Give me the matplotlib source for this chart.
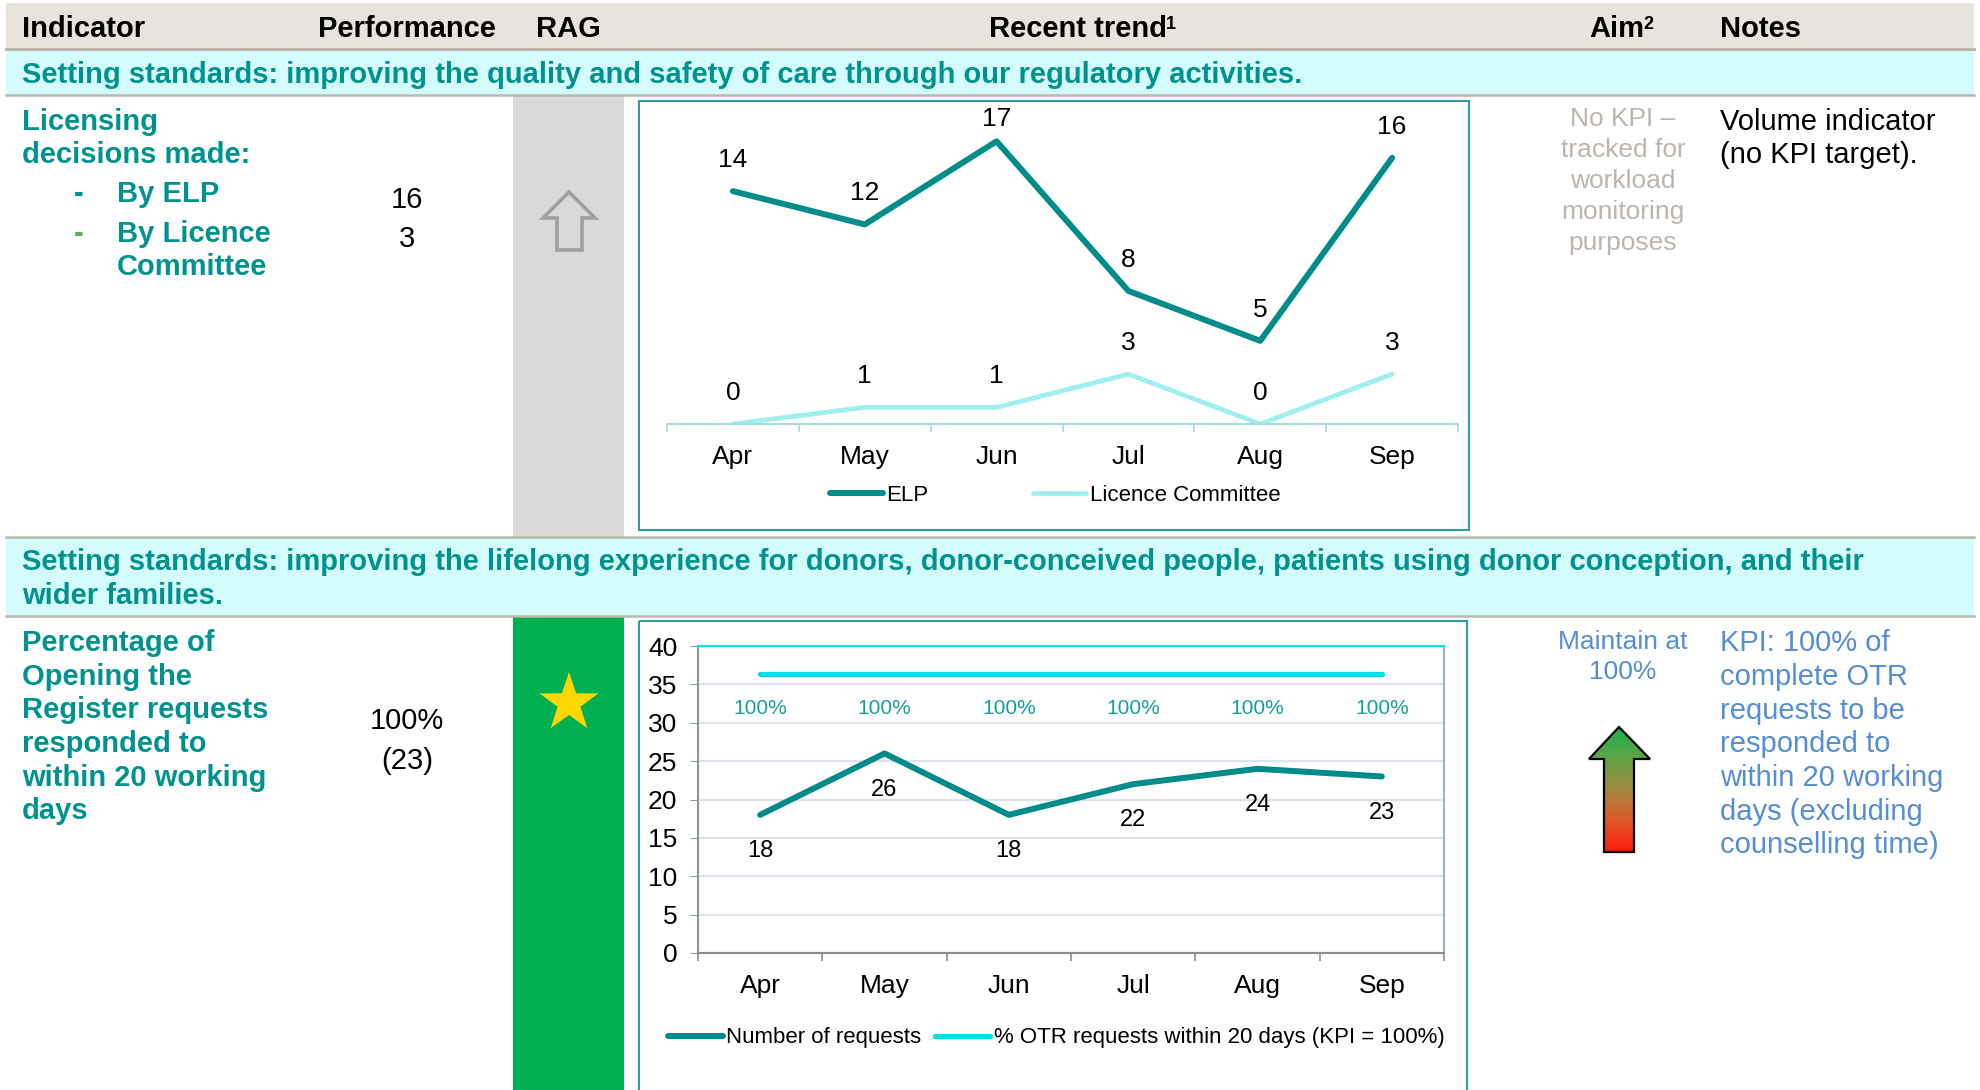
import numpy as np
import matplotlib.pyplot as plt
from matplotlib.patches import Rectangle, Polygon
from matplotlib.colors import LinearSegmentedColormap

plt.rcParams['font.family'] = ['Liberation Sans', 'DejaVu Sans']

W, H = 1980, 1090
DY = 3  # text baseline nudge in pixels

# data
months = ['Apr', 'May', 'Jun', 'Jul', 'Aug', 'Sep']
elp = [14, 12, 17, 8, 5, 16]
licence_committee = [0, 1, 1, 3, 0, 3]
otr_requests = [18, 26, 18, 22, 24, 23]
otr_pct = [100, 100, 100, 100, 100, 100]

teal = '#00928F'
blue = '#558ED5'
line_gray = '#BDB7AE'

fig = plt.figure(figsize=(W / 100, H / 100), dpi=100)

# background layer in pixel coordinates
bg = fig.add_axes([0, 0, 1, 1])
bg.set_xlim(0, W)
bg.set_ylim(H, 0)
bg.axis('off')


def px_axes(x0, y0, x1, y1):
    return fig.add_axes([x0 / W, 1 - y1 / H, (x1 - x0) / W, (y1 - y0) / H])


def lines(x, ys, texts, **kw):
    for y, s in zip(ys, texts):
        bg.text(x, y + DY, s, va='center', **kw)


# bands
bg.add_patch(Rectangle((6, 3), 1968, 46, fc='#E8E3DC', ec='none'))
bg.add_patch(Rectangle((6, 50), 1968, 45, fc='#D5FCFC', ec='none'))
bg.add_patch(Rectangle((6, 537), 1968, 79, fc='#D5FCFC', ec='none'))
bg.plot([6, 1974], [49, 49], color=line_gray, lw=2.2)
for yy in [95, 537, 616]:
    bg.plot([6, 1974], [yy, yy], color=line_gray, lw=1.8)

# RAG column
bg.add_patch(Rectangle((513, 96), 111, 441, fc='#D9D9D9', ec='none'))
bg.add_patch(Rectangle((513, 617), 111, 480, fc='#00B050', ec='none'))

# chart frames
bg.add_patch(Rectangle((639, 101), 830, 429, fill=False, ec='#2E9E9A', lw=1.5))
bg.add_patch(Rectangle((639, 621), 828, 520, fill=False, ec='#2E9E9A', lw=1.5))

# header
hkw = dict(fontsize=21, fontweight='bold', color='black', va='center')
bg.text(22, 26 + DY, 'Indicator', ha='left', **hkw)
bg.text(407, 26 + DY, 'Performance', ha='center', **hkw)
bg.text(568, 26 + DY, 'RAG', ha='center', **hkw)
t_trend = bg.text(1078, 26 + DY, 'Recent trend', ha='center', **hkw)
t_aim = bg.text(1617, 26 + DY, 'Aim', ha='center', **hkw)
bg.text(1720, 26 + DY, 'Notes', ha='left', **hkw)
for t, s in [(t_trend, '1'), (t_aim, '2')]:
    bg.annotate(s, xy=(1, 1), xycoords=t, xytext=(-0.5, -1), textcoords='offset points',
                ha='left', va='top', fontsize=13, fontweight='bold')

# section titles
skw = dict(fontsize=21, fontweight='bold', color=teal, ha='left')
lines(22, [72], ['Setting standards: improving the quality and safety of care through our regulatory activities.'], **skw)
lines(22, [559, 593], ['Setting standards: improving the lifelong experience for donors, donor-conceived people, patients using donor conception, and their',
                       'wider families.'], **skw)

# row 1
ikw = dict(fontsize=21, fontweight='bold', color=teal, ha='left')
lines(22, [119, 152], ['Licensing', 'decisions made:'], **ikw)
lines(117, [191, 231, 264], ['By ELP', 'By Licence', 'Committee'], **ikw)
lines(74, [191], ['-'], **ikw)
lines(74, [231], ['-'], fontsize=21, fontweight='bold', color='#5BAF5B', ha='left')
lines(407, [197, 236], ['16', '3'], fontsize=21, color='black', ha='center')
lines(1623, [116, 147, 178, 209, 240],
      ['No KPI –', 'tracked for', 'workload', 'monitoring', 'purposes'],
      fontsize=19, color='#BCB5AD', ha='center')
lines(1720, [119, 152], ['Volume indicator', '(no KPI target).'], fontsize=21, color='black', ha='left')

# row 2
lines(22, [640, 674, 707, 741, 775, 808],
      ['Percentage of', 'Opening the', 'Register requests', 'responded to', 'within 20 working', 'days'], **ikw)
lines(407, [718, 758], ['100%', '(23)'], fontsize=21, color='black', ha='center')
lines(1623, [639, 669], ['Maintain at', '100%'], fontsize=19, color=blue, ha='center')
lines(1720, [640, 674, 708, 741, 775, 809, 842],
      ['KPI: 100% of', 'complete OTR', 'requests to be', 'responded to', 'within 20 working',
       'days (excluding', 'counselling time)'], fontsize=21, color=blue, ha='left')

# RAG icons
up = [(569, 192), (595, 218), (582, 218), (582, 250), (557, 250), (557, 218), (543, 218)]
bg.add_patch(Polygon(up, closed=True, fc='#D9D9D9', ec='#A0A0A0', lw=2.6))

ang = np.pi / 2 + np.arange(10) * np.pi / 5
rad = np.where(np.arange(10) % 2 == 0, 31, 12)
star = np.column_stack([569 + rad * np.cos(ang), 703 - rad * np.sin(ang)])
bg.add_patch(Polygon(star, closed=True, fc='#FFD700', ec='none'))

# gradient aim arrow
aim_arrow = [(1619, 727), (1650, 759), (1634, 759), (1634, 852), (1604, 852), (1604, 759), (1589, 759)]
cmap = LinearSegmentedColormap.from_list('rg', ['#1DB04B', '#5FA548', '#A38840', '#E0582A', '#FF1A05'])
clip = Polygon(aim_arrow, closed=True, transform=bg.transData, fc='none', ec='none')
bg.add_patch(clip)
im = bg.imshow(np.linspace(0, 1, 256).reshape(-1, 1), cmap=cmap, aspect='auto',
               extent=(1589, 1650, 852, 727), origin='upper', zorder=2)
im.set_clip_path(clip)
bg.add_patch(Polygon(aim_arrow, closed=True, fill=False, ec='black', lw=1.6, zorder=3))
bg.set_xlim(0, W)
bg.set_ylim(H, 0)

x = np.arange(len(months))

# chart 1: licensing decisions
ax1 = px_axes(667, 108, 1458, 424)
ax1.patch.set_alpha(0)
y1_top = 19
l_elp, = ax1.plot(x, elp, color='#008C8A', lw=4.3, solid_capstyle='round', label='ELP')
l_lc, = ax1.plot(x, licence_committee, color='#9FEFF0', lw=3.4, solid_capstyle='round', label='Licence Committee')
pt_per_unit = 316 / y1_top * 0.72
for series in (elp, licence_committee):
    for i in x:
        # keep label inside plot area, like the spreadsheet does
        off = min(22.5, (y1_top - series[i]) * pt_per_unit - 8)
        ax1.annotate(str(series[i]), (i, series[i]), xytext=(0, off), textcoords='offset points',
                     ha='center', va='center', fontsize=19)
ax1.set_xlim(-0.5, 5.5)
ax1.set_ylim(0, y1_top)
ax1.set_yticks([])
ax1.set_xticks(x)
ax1.set_xticklabels(months, fontsize=19)
ax1.set_xticks(np.arange(-0.5, 6, 1), minor=True)
ax1.tick_params(axis='x', which='major', length=0, pad=15)
ax1.tick_params(axis='x', which='minor', length=6, width=1.2, color='#A8DCDC')
for s in ['top', 'left', 'right']:
    ax1.spines[s].set_visible(False)
ax1.spines['bottom'].set_color('#A8DCDC')
ax1.spines['bottom'].set_linewidth(1.5)
fig.legend(handles=[l_elp, l_lc], loc='center', bbox_to_anchor=(1055 / W, 1 - 495 / H),
           ncol=2, frameon=False, fontsize=16, handlelength=2.4, handletextpad=0.15,
           columnspacing=4.7)

# chart 2: opening the register requests
ax2 = px_axes(698, 646, 1444, 953)
ax2.patch.set_alpha(0)
l_req, = ax2.plot(x, otr_requests, color='#008B8B', lw=4.3, solid_capstyle='round',
                  label='Number of requests', zorder=3)
for i in x:
    ax2.annotate(str(otr_requests[i]), (i, otr_requests[i]), xytext=(0, -26),
                 textcoords='offset points', ha='center', va='center', fontsize=17)
ax2.set_xlim(-0.5, 5.5)
ax2.set_ylim(0, 40)
ax2.set_yticks(range(0, 41, 5))
ax2.tick_params(axis='y', labelsize=19, length=6, color='#8C9898', pad=9)
ax2.set_xticks(x)
ax2.set_xticklabels(months, fontsize=19)
ax2.set_xticks(np.arange(-0.5, 6, 1), minor=True)
ax2.tick_params(axis='x', which='major', length=0, pad=15)
ax2.tick_params(axis='x', which='minor', length=6, width=1.2, color='#8C8C8C')
ax2.grid(axis='y', color='#DCE3EE', lw=1.6)
ax2.set_axisbelow(True)
ax2.spines['top'].set_color('#00E5EE')
ax2.spines['right'].set_color('#A0B4B4')
ax2.spines['left'].set_color('#8C9898')
ax2.spines['bottom'].set_color('#8C8C8C')
for s in ax2.spines.values():
    s.set_linewidth(1.5)

ax3 = ax2.twinx()
l_pct, = ax3.plot(x, otr_pct, color='#00DEE8', lw=3.8, solid_capstyle='round',
                  label='% OTR requests within 20 days (KPI = 100%)')
for i in x:
    ax3.annotate(f'{otr_pct[i]}%', (i, otr_pct[i]), xytext=(0, -25), textcoords='offset points',
                 ha='center', va='center', fontsize=15, color='#179E9A')
ax3.set_ylim(0, 110)
ax3.set_yticks([])
for s in ax3.spines.values():
    s.set_visible(False)
fig.legend(handles=[l_req, l_pct], loc='center', bbox_to_anchor=(1056 / W, 1 - 1038 / H),
           ncol=2, frameon=False, fontsize=16, handlelength=2.5, handletextpad=0.15,
           columnspacing=0.6)

fig.savefig('out.png', dpi=100, facecolor='white')
